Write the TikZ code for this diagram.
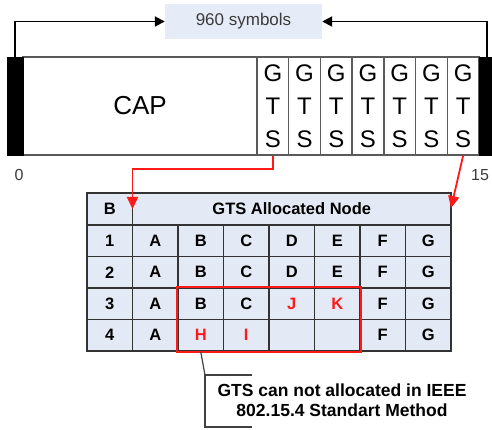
\documentclass[tikz,border=0pt]{standalone}
\usepackage{fontspec}
\setmainfont{Liberation Sans}
\usetikzlibrary{arrows.meta,calc}
\definecolor{cellfill}{HTML}{E4EAF5}
\definecolor{labelfill}{HTML}{E6ECF7}
\definecolor{gridline}{HTML}{333333}
\definecolor{barline}{HTML}{5A5A5A}
\definecolor{alloc}{HTML}{FF1A1A}
\definecolor{labeltext}{HTML}{3A3A3A}
\definecolor{noteline}{HTML}{404040}
\newcommand\hl[1]{\textcolor{alloc}{#1}}
\begin{document}
\begin{tikzpicture}[x=1pt,y=-1pt,
  slot/.style={draw=barline,line width=1.3pt,fill=white,inner sep=0pt,minimum height=98pt},
  endbar/.style={fill=black,draw=black,line width=0.5pt,inner sep=0pt,minimum height=98pt},
  gtscell/.style={slot,minimum width=31.7pt,font=\fontsize{24}{33}\selectfont,align=center},
  cell/.style={draw=gridline,line width=1.8pt,fill=cellfill,inner sep=0pt,minimum width=45.5pt,minimum height=31.6pt,font=\fontsize{16.5}{18}\bfseries\selectfont},
  span/.style={black,line width=1.8pt,-{Triangle[length=10pt,width=10pt]}},
  link/.style={alloc,line width=1.8pt,-{Triangle[length=12pt,width=11pt]}},
  callout/.style={noteline,line width=1.2pt},
  tick/.style={font=\fontsize{16}{18}\selectfont,text=labeltext}]
\useasboundingbox (0,0) rectangle (492,430);

% superframe bar
\node[slot,minimum width=234pt,font=\fontsize{26}{30}\selectfont] (cap) at (140,106) {CAP};
\foreach \i in {1,...,7}
  \node[gtscell] (gts\i) at ({257+31.71*(\i-0.5)},106) {G\\T\\S};
\node[endbar,minimum width=16pt] (lbar) at (15,106) {};
\node[endbar,minimum width=13pt] (rbar) at (485.5,106) {};

% superframe length
\node[fill=labelfill,minimum width=157pt,minimum height=35pt,inner sep=0pt,text=labeltext,font=\fontsize{17}{20}\selectfont] (sym) at (243.5,21.5) {960 symbols};
\draw[span] (lbar.north) |- (sym.west);
\draw[span] ([xshift=1.5pt]rbar.north) |- (sym.east);

\node[tick] (zero) at (19,175) {0};
\node[tick] (fifteen) at (480,175) {15};

% allocation table
\node[cell] (hb) at (109.75,209) {B};
\node[cell,minimum width=318.5pt] (hgts) at (291.75,209) {GTS Allocated Node};
\foreach \t [count=\c] in {1,A,B,C,D,E,F,G}
  \node[cell] (c-1-\c) at ({87+45.5*(\c-0.5)},240.75) {\t};
\foreach \t [count=\c] in {2,A,B,C,D,E,F,G}
  \node[cell] (c-2-\c) at ({87+45.5*(\c-0.5)},272.25) {\t};
\foreach \t [count=\c] in {3,A,B,C,\hl{J},\hl{K},F,G}
  \node[cell] (c-3-\c) at ({87+45.5*(\c-0.5)},303.75) {\t};
\foreach \t [count=\c] in {4,A,\hl{H},\hl{I},{},{},F,G}
  \node[cell] (c-4-\c) at ({87+45.5*(\c-0.5)},335.25) {\t};

\draw[alloc,line width=2pt] (c-3-3.north west) rectangle (c-4-6.south east);

% GTS slots to table
\coordinate (ltip) at (132.5,209);
\coordinate (rtip) at (451,208);
\draw[link] (gts1.south) -- ++(0,13) -| (ltip);
\draw[link] (gts7.south) -- (rtip);

% note
\node[font=\fontsize{17.5}{20}\bfseries\selectfont,align=center] (note) at (342,400) {GTS can not allocated in IEEE\\802.15.4 Standart Method};
\coordinate (bt) at (205,375);
\coordinate (bb) at (205,427);
\draw[callout] (c-4-3.south) -- (bt);
\draw[callout] ($(bt)+(47,0)$) -- (bt) -- (bb) -- ++(47,0);
\end{tikzpicture}
\end{document}
